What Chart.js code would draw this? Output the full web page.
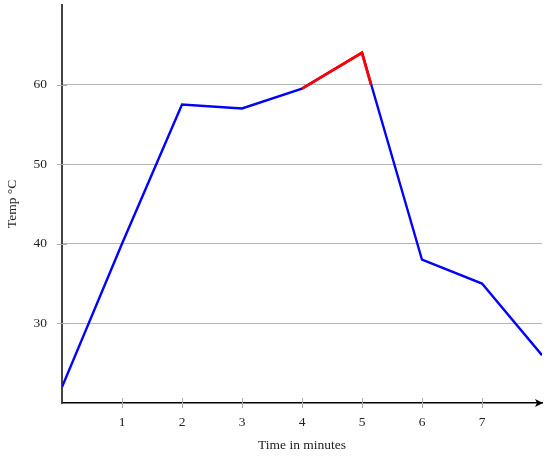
<!DOCTYPE html>
<html>
<head>
<meta charset="utf-8">
<script src="https://cdn.jsdelivr.net/npm/chart.js@4"></script>
<style>
  html, body { margin: 0; padding: 0; background: #fff; }
  #wrap { width: 550px; height: 458px; }
</style>
</head>
<body>
<div id="wrap"><canvas id="chart"></canvas></div>
<script>
// temperature readings
const minutes = [0, 1, 2, 3, 4, 5, 6, 7, 8];
const temps = [22, 40, 57.5, 57, 59.5, 64, 38, 35, 26];

// part of the curve drawn in red (above the 60 line)
const hotMinutes = [4, 5, 5.15];
const hotTemps = [59.5, 64, 60];

const xTicks = [1, 2, 3, 4, 5, 6, 7];
const yTicks = [30, 40, 50, 60];

const toPoints = (xs, ys) => xs.map((x, i) => ({ x: x, y: ys[i] }));

// arrow at the end of the x axis + tick marks crossing the axes
const axisDecor = {
  id: "axisDecor",
  afterDraw(chart) {
    const ctx = chart.ctx;
    const xs = chart.scales.x;
    const ys = chart.scales.y;
    const area = chart.chartArea;
    ctx.save();
    ctx.strokeStyle = "#aaa";
    ctx.lineWidth = 1;
    xTicks.forEach((t) => {
      const px = Math.round(xs.getPixelForValue(t)) + 0.5;
      ctx.beginPath();
      ctx.moveTo(px, area.bottom - 5);
      ctx.lineTo(px, area.bottom + 5);
      ctx.stroke();
    });
    yTicks.forEach((t) => {
      const py = Math.round(ys.getPixelForValue(t)) + 0.5;
      ctx.beginPath();
      ctx.moveTo(area.left - 5, py);
      ctx.lineTo(area.left + 5, py);
      ctx.stroke();
    });
    // arrow head
    const ay = area.bottom;
    const ax = area.right;
    ctx.fillStyle = "#000";
    ctx.beginPath();
    ctx.moveTo(ax + 1, ay);
    ctx.lineTo(ax - 7, ay - 4);
    ctx.lineTo(ax - 5, ay);
    ctx.lineTo(ax - 7, ay + 4);
    ctx.closePath();
    ctx.fill();
    ctx.restore();
  },
};

const font = { family: "'Liberation Serif', 'DejaVu Serif', serif", size: 13.5 };

new Chart(document.getElementById("chart"), {
  type: "line",
  data: {
    datasets: [
      {
        data: toPoints(minutes, temps),
        borderColor: "#0000ff",
        borderWidth: 2.4,
        pointRadius: 0,
        tension: 0,
        order: 2,
      },
      {
        data: toPoints(hotMinutes, hotTemps),
        borderColor: "#ff0000",
        borderWidth: 2.8,
        pointRadius: 0,
        tension: 0,
        order: 1,
      },
    ],
  },
  options: {
    responsive: true,
    maintainAspectRatio: false,
    animation: false,
    layout: { padding: { top: 5, right: 8, left: 0, bottom: 0 } },
    plugins: { legend: { display: false }, tooltip: { enabled: false } },
    scales: {
      x: {
        type: "linear",
        min: 0,
        max: 8,
        afterFit: (scale) => { scale.height = 55; scale.paddingLeft = 0; scale.paddingRight = 0; },
        afterBuildTicks: (scale) => { scale.ticks = xTicks.map((v) => ({ value: v })); },
        ticks: { font: font, color: "#222", padding: 11, maxRotation: 0 },
        grid: { display: false, drawTicks: false },
        border: { display: true, color: "#000", width: 1.5 },
        title: { display: true, text: "Time in minutes", font: font, color: "#222", padding: { top: 4, bottom: 4 } },
      },
      y: {
        min: 20,
        max: 70,
        afterFit: (scale) => { scale.width = 62; scale.paddingTop = 0; scale.paddingBottom = 0; },
        afterBuildTicks: (scale) => { scale.ticks = yTicks.map((v) => ({ value: v })); },
        ticks: { font: font, color: "#222", padding: 15 },
        grid: { color: "#b5b5b5", lineWidth: 1, drawTicks: false },
        border: { display: true, color: "#444", width: 2 },
        title: { display: true, text: "Temp °C", font: font, color: "#222", padding: { top: 4, bottom: 0 } },
      },
    },
  },
  plugins: [axisDecor],
});
</script>
</body>
</html>
